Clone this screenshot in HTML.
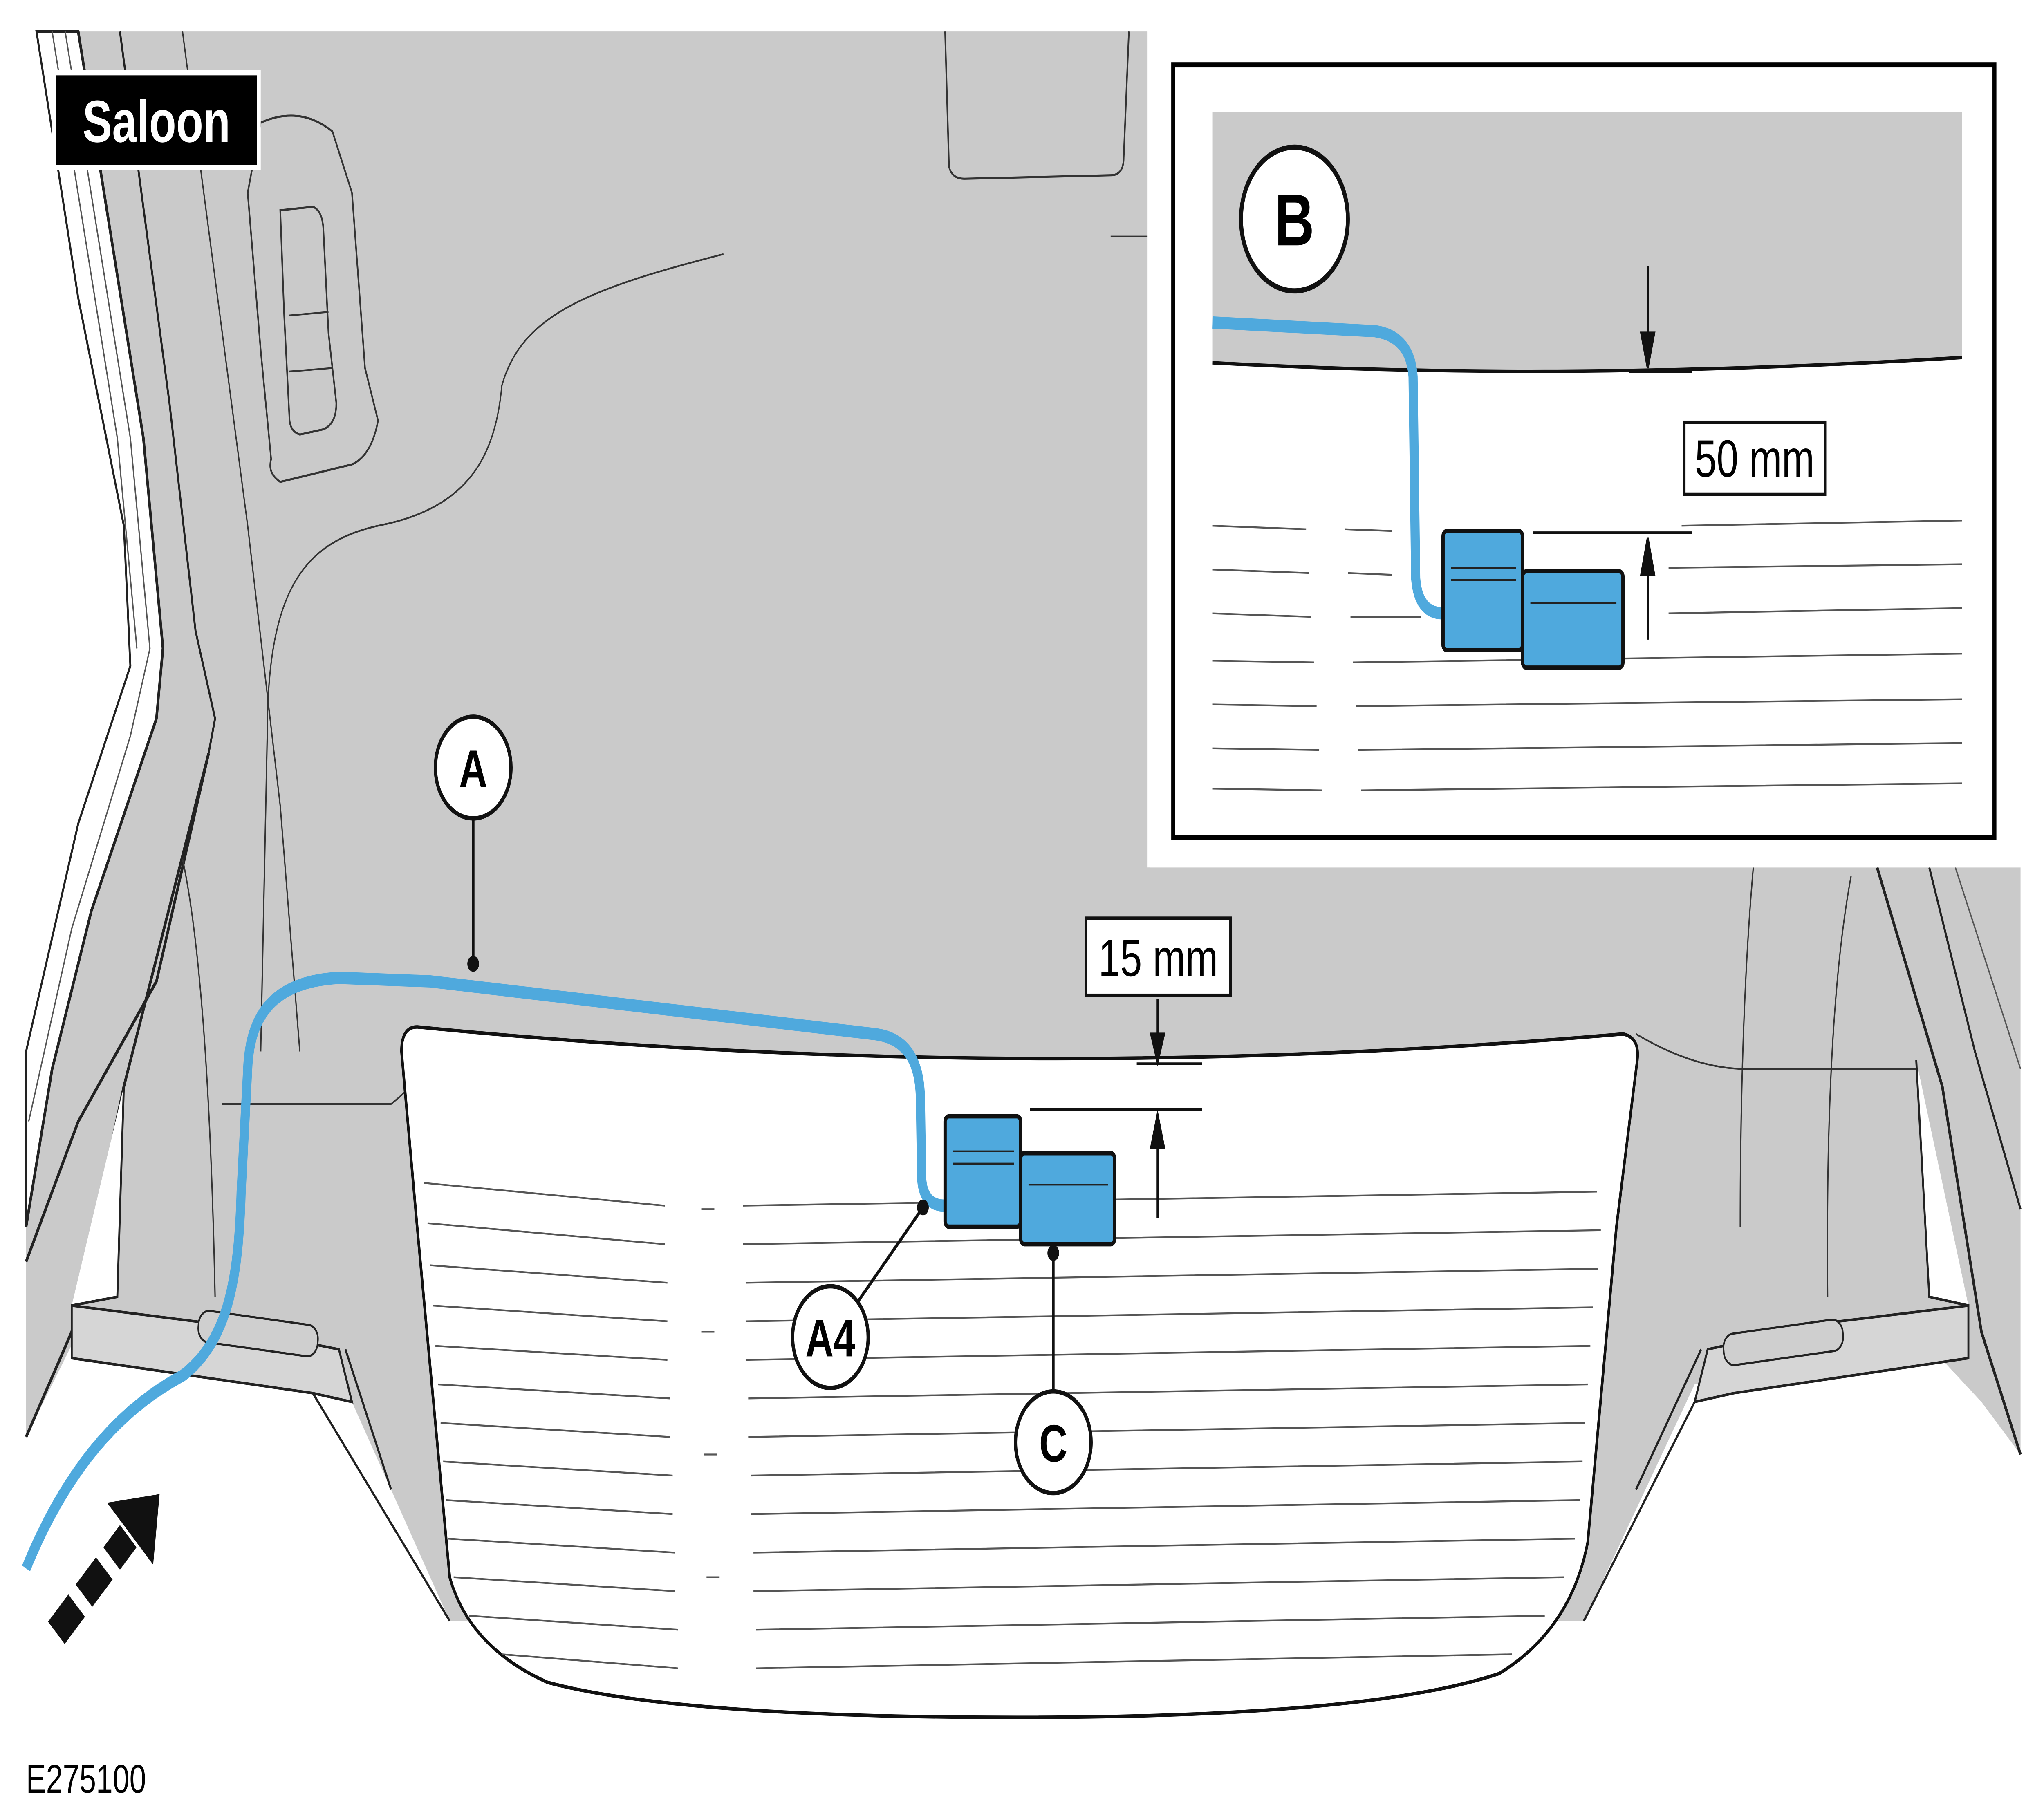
<!DOCTYPE html>
<html><head><meta charset="utf-8"><style>
html,body{margin:0;padding:0;background:#fff;width:100%;height:100%;overflow:hidden;}
svg{display:block;width:100vw;height:100vh;}
text{font-family:"Liberation Sans",sans-serif;}
</style></head><body>
<svg viewBox="0 0 1568 1030" preserveAspectRatio="none" xmlns="http://www.w3.org/2000/svg">
<rect width="1568" height="1030" fill="#fff"/>
<path d="M28,18 L880,18 L880,495 L1550,495 L1550,830 L1520,800 L1470,760 L1300,790 L1215,925 L345,925 L270,800 L240,790 L60,760 L20,820 L20,600 L60,470 L100,380 L95,300 L60,170 Z" fill="#cacaca"/>
<path d="M28,18 L60,18 L110,250 L125,370 L120,410 L70,520 L40,610 L20,700 L20,600 L60,470 L100,380 L95,300 L60,170 Z" fill="#fff" stroke="#222" stroke-width="1.5"/>
<path d="M40,18 L90,250 L105,370" fill="none" stroke="#555" stroke-width="1"/>
<path d="M50,18 L100,250 L115,370 L100,420 L55,530 L22,640" fill="none" stroke="#555" stroke-width="1"/>
<path d="M60,18 L110,250 L125,370 L120,410 L70,520 L40,610 L20,700" fill="none" stroke="#222" stroke-width="2"/>
<path d="M20,720 L60,640 L120,560 L160,430" fill="none" stroke="#222" stroke-width="2"/>
<path d="M20,820 L55,760 L95,620 L160,430" fill="none" stroke="#222" stroke-width="2"/>
<path d="M95,620 L90,740 L55,745" fill="#fff" stroke="#222" stroke-width="1.5"/>
<path d="M92,18 L130,230 L150,360 L165,410 L160,430" fill="none" stroke="#222" stroke-width="1.5"/>
<path d="M1440,495 L1490,620 L1520,760 L1550,830" fill="none" stroke="#222" stroke-width="2"/>
<path d="M1480,495 L1515,600 L1550,690" fill="none" stroke="#222" stroke-width="1.5"/>
<path d="M1470,605 L1480,740 L1510,745" fill="#fff" stroke="#222" stroke-width="1.5"/>
<path d="M1500,495 L1550,610" fill="none" stroke="#555" stroke-width="1"/>
<path d="M140,18 L190,300 L215,460 L230,600" fill="none" stroke="#333" stroke-width="1"/>
<path d="M555,145 C450,165 400,180 385,220 C380,260 360,290 290,300 C230,310 205,340 205,420 L200,600" fill="none" stroke="#333" stroke-width="1"/>
<path d="M725,18 L728,95 Q730,102 740,102 L852,100 Q862,100 862,90 L866,18" fill="none" stroke="#333" stroke-width="1.2"/>
<path d="M852,135 L880,135" stroke="#333" stroke-width="1"/>
<path d="M200,70 Q230,60 255,75 L270,110 L280,210 L290,240 Q285,260 270,265 L215,275 Q205,270 208,262 L200,200 L190,110 Z" fill="none" stroke="#333" stroke-width="1.2"/>
<path d="M215,120 L240,118 Q247,120 248,130 L252,190 L258,230 Q258,242 248,245 L230,248 Q222,246 222,238 L218,180 Z" fill="none" stroke="#333" stroke-width="1.2"/>
<path d="M222,180 L252,178 M222,212 L255,210" stroke="#333" stroke-width="1"/>
<path d="M170,630 L300,630 Q350,600 310,590" fill="none" stroke="#333" stroke-width="1"/>
<path d="M140,490 Q160,560 165,740" fill="none" stroke="#333" stroke-width="1"/>
<path d="M1345,495 Q1335,580 1335,700" fill="none" stroke="#333" stroke-width="1"/>
<path d="M1420,500 Q1400,580 1402,740" fill="none" stroke="#333" stroke-width="1"/>
<path d="M1255,590 Q1300,610 1340,610 L1470,610" fill="none" stroke="#333" stroke-width="1"/>
<path d="M55,745 L160,755 L260,770 L270,800 L240,795 L55,775 Z" fill="#d6d6d6" stroke="#222" stroke-width="1.5"/>
<rect x="152" y="752" width="92" height="18" rx="8" transform="rotate(6 198 761)" fill="#cfcfcf" stroke="#222" stroke-width="1.2"/>
<path d="M240,795 L345,925 M265,770 L300,850" stroke="#222" stroke-width="1.5" fill="none"/>
<path d="M1510,745 L1400,755 L1310,770 L1300,800 L1330,795 L1510,775 Z" fill="#d6d6d6" stroke="#222" stroke-width="1.5"/>
<rect x="1322" y="757" width="92" height="18" rx="8" transform="rotate(-6 1368 766)" fill="#cfcfcf" stroke="#222" stroke-width="1.2"/>
<path d="M1300,800 L1215,925 M1305,770 L1255,850" stroke="#222" stroke-width="1.5" fill="none"/>
<path d="M320,586 Q780,620 1245,590 Q1258,592 1256,605 L1240,700 L1218,880 Q1205,930 1150,955 Q1050,980 780,980 Q520,980 420,960 Q360,940 345,900 L320,700 L308,600 Q308,586 320,586 Z" fill="#fff" stroke="#111" stroke-width="2"/>
<g stroke="#555" stroke-width="1">
<path d="M325,675 L510,688 M570,688 L1225,680"/>
<path d="M328,698 L510,710 M570,710 L1228,702"/>
<path d="M330,722 L512,732 M572,732 L1226,724"/>
<path d="M332,745 L512,754 M572,754 L1222,746"/>
<path d="M334,768 L512,776 M572,776 L1220,768"/>
<path d="M336,790 L514,798 M574,798 L1218,790"/>
<path d="M338,812 L514,820 M574,820 L1216,812"/>
<path d="M340,834 L516,842 M576,842 L1214,834"/>
<path d="M342,856 L516,864 M576,864 L1212,856"/>
<path d="M344,878 L518,886 M578,886 L1208,878"/>
<path d="M348,900 L518,908 M578,908 L1200,900"/>
<path d="M360,922 L520,930 M580,930 L1185,922"/>
<path d="M385,944 L520,952 M580,952 L1160,944"/>
<path d="M538,690 L548,690 M538,760 L548,760 M540,830 L550,830 M542,900 L552,900"/>
</g>
<path d="M20,895 C50,840 90,805 140,785 C175,765 183,730 185,680 L190,610 C192,575 215,560 260,558 L330,560 L670,590 C695,592 705,605 706,625 L707,672 Q708,688 725,688" fill="none" stroke="#4fa9dd" stroke-width="7"/>
<rect x="725" y="637" width="58" height="63" rx="3" fill="#4fa9dd" stroke="#111" stroke-width="2.5"/>
<path d="M731,657 L778,657 M731,664 L778,664" stroke="#222" stroke-width="1"/>
<rect x="783" y="658" width="72" height="52" rx="3" fill="#4fa9dd" stroke="#111" stroke-width="2.5"/>
<path d="M789,676 L850,676" stroke="#222" stroke-width="1"/>
<g stroke="#111" stroke-width="1.5" fill="#111">
<path d="M872,607 L922,607 M790,633 L922,633 M888,570 L888,600 M888,640 L888,695"/>
<path d="M883,590 L893,590 L888,606 Z M883,655 L893,655 L888,636 Z"/>
</g>
<rect x="833" y="524" width="111" height="44" fill="#fff" stroke="#111" stroke-width="2"/>
<text x="888.5" y="557" font-size="30" text-anchor="middle">15 mm</text>
<g stroke="#111" stroke-width="2">
<path d="M363,467 L363,550 M656,745 L708,689 M808,795 L808,715"/>
</g>
<circle cx="363" cy="550" r="4.5" fill="#111"/>
<circle cx="708" cy="689" r="4.5" fill="#111"/>
<circle cx="808" cy="715" r="4.5" fill="#111"/>
<g fill="#fff" stroke="#111" stroke-width="2.5">
<circle cx="363" cy="438" r="29"/>
<circle cx="637" cy="763" r="29"/>
<circle cx="808" cy="823" r="29"/>
</g>
<g font-size="30" font-weight="bold" text-anchor="middle">
<text x="363" y="449">A</text>
<text x="637" y="774">A4</text>
<text x="808" y="834">C</text>
</g>
<g fill="#111" transform="rotate(-45 80 895)">
<rect x="28" y="886" width="22" height="18"/>
<rect x="58" y="886" width="22" height="18"/>
<rect x="88" y="886" width="18" height="18"/>
<path d="M108,870 L140,895 L108,920 Z"/>
</g>
<rect x="40" y="40" width="160" height="57" fill="#fff"/>
<rect x="43" y="43" width="154" height="51" fill="#000"/>
<text x="120" y="81" font-size="34" font-weight="bold" fill="#fff" text-anchor="middle">Saloon</text>
<rect x="882" y="18" width="668" height="477" fill="#fff"/>
<rect x="900" y="37" width="630" height="441" fill="#fff" stroke="#000" stroke-width="3"/>
<path d="M930,64 L1505,64 L1505,204 Q1200,218 930,207 Z" fill="#cacaca"/>
<path d="M930,207 Q1200,218 1505,204" fill="none" stroke="#111" stroke-width="2"/>
<g stroke="#555" stroke-width="1">
<path d="M930,300 L1002,302 M1032,302 L1068,303 M1290,300 L1505,297"/>
<path d="M930,325 L1004,327 M1034,327 L1068,328 M1280,324 L1505,322"/>
<path d="M930,350 L1006,352 M1036,352 L1090,352 M1280,350 L1505,347"/>
<path d="M930,377 L1008,378 M1038,378 L1505,373"/>
<path d="M930,402 L1010,403 M1040,403 L1505,399"/>
<path d="M930,427 L1012,428 M1042,428 L1505,424"/>
<path d="M930,450 L1014,451 M1044,451 L1505,447"/>
</g>
<path d="M930,184 L1055,189 Q1082,192 1084,215 L1086,330 Q1088,350 1107,350" fill="none" stroke="#4fa9dd" stroke-width="7"/>
<rect x="1107" y="303" width="61" height="68" rx="3" fill="#4fa9dd" stroke="#111" stroke-width="2.5"/>
<path d="M1113,324 L1163,324 M1113,331 L1163,331" stroke="#222" stroke-width="1"/>
<rect x="1168" y="326" width="77" height="55" rx="3" fill="#4fa9dd" stroke="#111" stroke-width="2.5"/>
<path d="M1174,344 L1240,344" stroke="#222" stroke-width="1"/>
<g stroke="#111" stroke-width="1.5" fill="#111">
<path d="M1250,212 L1298,212 M1176,304 L1298,304 M1264,152 L1264,205 M1264,312 L1264,365"/>
<path d="M1259,190 L1269,190 L1264,210 Z M1259,328 L1269,328 L1264,307 Z"/>
</g>
<rect x="1292" y="241" width="108" height="41" fill="#fff" stroke="#111" stroke-width="2"/>
<text x="1346" y="272" font-size="30" text-anchor="middle">50 mm</text>
<circle cx="993" cy="125" r="41" fill="#fff" stroke="#111" stroke-width="3"/>
<text x="993" y="140" font-size="42" font-weight="bold" text-anchor="middle">B</text>
<text x="20" y="1023" font-size="23">E275100</text>
</svg>
</body></html>
